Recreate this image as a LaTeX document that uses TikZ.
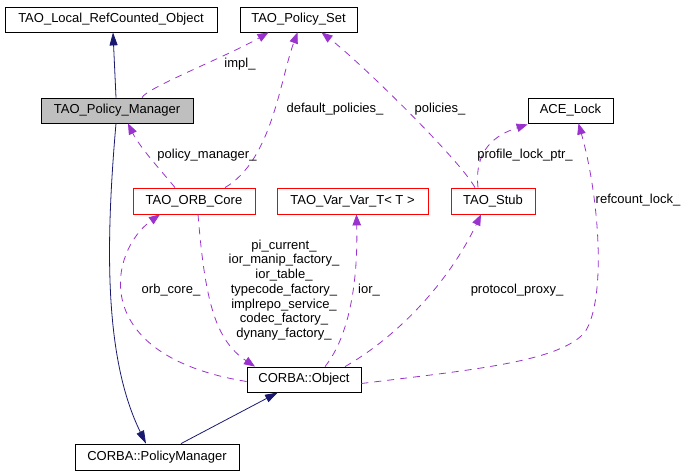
\documentclass[tikz,border=0pt]{standalone}
\usepackage{fontspec}
\setmainfont{Liberation Sans}
\usepackage{tikz}
\usetikzlibrary{arrows.meta, positioning, calc}

\definecolor{inhblue}{RGB}{25,25,112}
\definecolor{usepurple}{RGB}{154,50,205}
\definecolor{boxgray}{RGB}{191,191,191}

\begin{document}
\begin{tikzpicture}[x=1pt, y=-1pt,
  every node/.style={font=\fontsize{13}{14.7}\selectfont},
  cls/.style={draw=black, line width=0.8pt, inner sep=0pt, minimum height=25pt},
  partcls/.style={cls, draw=red},
  inh/.style={draw=inhblue, line width=0.8pt, -{Triangle[length=13pt,width=8pt]}},
  usage/.style={draw=usepurple, line width=0.8pt, dash pattern=on 7pt off 6pt,
    -{Triangle[length=11pt,width=8.5pt,fill=usepurple]}},
  lbl/.style={inner sep=1pt, align=center}]
\useasboundingbox (0,0) rectangle (685,475);

% Classes
\node[cls, minimum width=212pt] (lrc) at (111,19.5) {TAO\_Local\_RefCounted\_Object};
\node[cls, minimum width=117pt] (pset) at (298.5,19.5) {TAO\_Policy\_Set};
\node[cls, fill=boxgray, minimum width=152pt] (pm) at (117,110.5) {TAO\_Policy\_Manager};
\node[cls, minimum width=85pt] (lock) at (570.5,110.5) {ACE\_Lock};
\node[partcls, minimum width=122pt, minimum height=26pt] (orb) at (194,201) {TAO\_ORB\_Core};
\node[partcls, minimum width=151pt, minimum height=26pt] (varvar) at (352.5,201) {TAO\_Var\_Var\_T< T >};
\node[partcls, minimum width=84pt, minimum height=26pt] (stub) at (493,201) {TAO\_Stub};
\node[cls, minimum width=114pt] (obj) at (304,379.5) {CORBA::Object};
\node[cls, minimum width=164pt, minimum height=26pt] (cpm) at (157,457) {CORBA::PolicyManager};

% Inheritance
\draw[inh] ([xshift=-1pt]pm.north) -- ([xshift=2pt]lrc.south);
\draw[inh] ([xshift=-1pt]pm.south) .. controls (105,250) and (105,360) .. ([xshift=-11pt]cpm.north);
\draw[inh] ([xshift=24pt]cpm.north) -- ([xshift=-26pt]obj.south);

% Members
\draw[usage] ([xshift=25pt]pm.north) .. controls (146,88) and (230,55) .. ([xshift=-30pt]pset.south);
\draw[usage] ([xshift=-19pt]orb.north) .. controls (165,175) and (140,148) .. ([xshift=11pt]pm.south);
\draw[usage] ([xshift=31pt]orb.north) .. controls (272,160) and (280,80) .. ([xshift=-1pt]pset.south);
\draw[usage] ([xshift=-18pt]stub.north) .. controls (460,160) and (360,62) .. ([xshift=23pt]pset.south);
\draw[usage] ([xshift=-15pt]stub.north) .. controls (474,150) and (495,135) .. ([yshift=-1pt]lock.south west);
\draw[usage] ([yshift=-4pt]obj.east) .. controls (470,370) and (560,362) .. (585,332)
  .. controls (606,300) and (600,200) .. ([xshift=8pt]lock.south);
\draw[usage] ([yshift=-2pt]obj.west) .. controls (85,355) and (110,250) .. ([xshift=-34pt]orb.south);
\draw[usage] ([xshift=4pt]orb.south) .. controls (205,300) and (215,340) .. ([xshift=-49pt]obj.north);
\draw[usage] ([xshift=21pt]obj.north) .. controls (350,335) and (358,280) .. ([xshift=4pt]varvar.south);
\draw[usage] ([xshift=41pt]obj.north) .. controls (400,335) and (450,280) .. ([xshift=-12pt]stub.south);

% Member labels
\node[lbl] (limpl) at (240,64) {impl\_};
\node[lbl] (lpman) at (207,155) {policy\_manager\_};
\node[lbl] (ldefpol) at (335,109) {default\_policies\_};
\node[lbl] (lpol) at (440,109) {policies\_};
\node[lbl] (lplock) at (525,155) {profile\_lock\_ptr\_};
\node[lbl] (lrlock) at (638,200) {refcount\_lock\_};
\node[lbl] (lorb) at (171,290) {orb\_core\_};
\node[lbl] (lmany) at (284,290) {pi\_current\_\\ior\_manip\_factory\_\\ior\_table\_\\typecode\_factory\_\\implrepo\_service\_\\codec\_factory\_\\dynany\_factory\_};
\node[lbl] (lior) at (369,290) {ior\_};
\node[lbl] (lproxy) at (517,290) {protocol\_proxy\_};
\end{tikzpicture}
\end{document}
